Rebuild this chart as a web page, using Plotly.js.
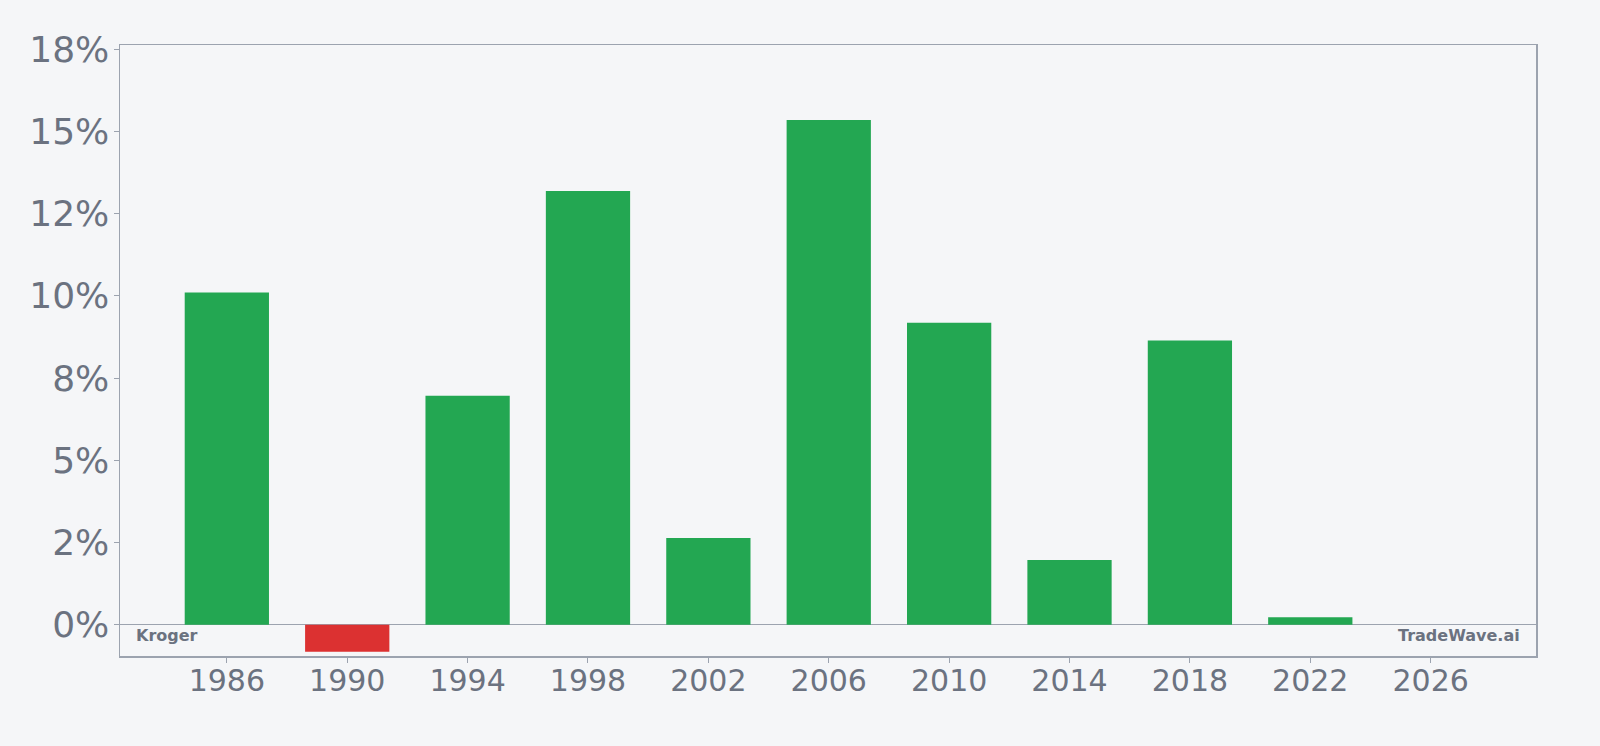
<!DOCTYPE html>
<html>
<head>
<meta charset="utf-8">
<script src="https://cdn.plot.ly/plotly-3.0.1.min.js"></script>
<style>
  html, body { margin: 0; padding: 0; background: #f5f6f8; }
  #chart { width: 1600px; height: 746px; }
</style>
</head>
<body>
<div id="chart"></div>
<script>
// yearly return, in percent
var years = [1986, 1990, 1994, 1998, 2002, 2006, 2010, 2014, 2018, 2022];
var returns = [10.10, -0.82, 6.96, 13.19, 2.64, 15.35, 9.18, 1.97, 8.64, 0.23];

var xTicks = [1986, 1990, 1994, 1998, 2002, 2006, 2010, 2014, 2018, 2022, 2026];
var yTicks = [0, 2.5, 5, 7.5, 10, 12.5, 15, 17.5];
var yTickText = ['0%', '2%', '5%', '8%', '10%', '12%', '15%', '18%'];

var green = '#23a752';
var red = '#dc3131';
var grey = '#6b7280';
var lineGrey = '#9ca3af';

var colors = returns.map(function (v) { return v < 0 ? red : green; });

var trace = {
  x: years,
  y: returns,
  type: 'bar',
  width: 2.8,
  marker: { color: colors },
  hoverinfo: 'x+y'
};

var layout = {
  width: 1600,
  height: 746,
  margin: { l: 120, r: 64, t: 45, b: 90 },
  paper_bgcolor: '#f5f6f8',
  plot_bgcolor: '#f5f6f8',
  font: { family: 'DejaVu Sans, sans-serif', color: grey },
  showlegend: false,
  xaxis: {
    range: [1982.45, 2029.5],
    tickvals: xTicks,
    ticktext: xTicks.map(String),
    tickfont: { size: 30, color: grey },
    ticks: 'outside',
    ticklen: 5,
    tickcolor: lineGrey,
    ticklabelstandoff: -8,
    showgrid: false,
    zeroline: false,
    showline: true,
    linecolor: lineGrey,
    linewidth: 1.5,
    mirror: true
  },
  yaxis: {
    range: [-0.952, 17.63],
    tickvals: yTicks,
    ticktext: yTickText,
    tickfont: { size: 36, color: grey },
    ticks: 'outside',
    ticklen: 5,
    tickcolor: lineGrey,
    ticklabelstandoff: -3,
    showgrid: false,
    zeroline: true,
    zerolinecolor: lineGrey,
    zerolinewidth: 1.5,
    showline: true,
    linecolor: lineGrey,
    linewidth: 1.5,
    mirror: true
  },
  annotations: [
    {
      text: '<b>Kroger</b>', xref: 'paper', yref: 'paper', x: 0, y: 0,
      xanchor: 'left', yanchor: 'middle', xshift: 14, yshift: 21,
      showarrow: false, font: { size: 16, color: grey }
    },
    {
      text: '<b>TradeWave.ai</b>', xref: 'paper', yref: 'paper', x: 1, y: 0,
      xanchor: 'right', yanchor: 'middle', xshift: -14, yshift: 21,
      showarrow: false, font: { size: 16, color: grey }
    }
  ]
};

Plotly.newPlot('chart', [trace], layout, { displayModeBar: false, staticPlot: true });
</script>
</body>
</html>
